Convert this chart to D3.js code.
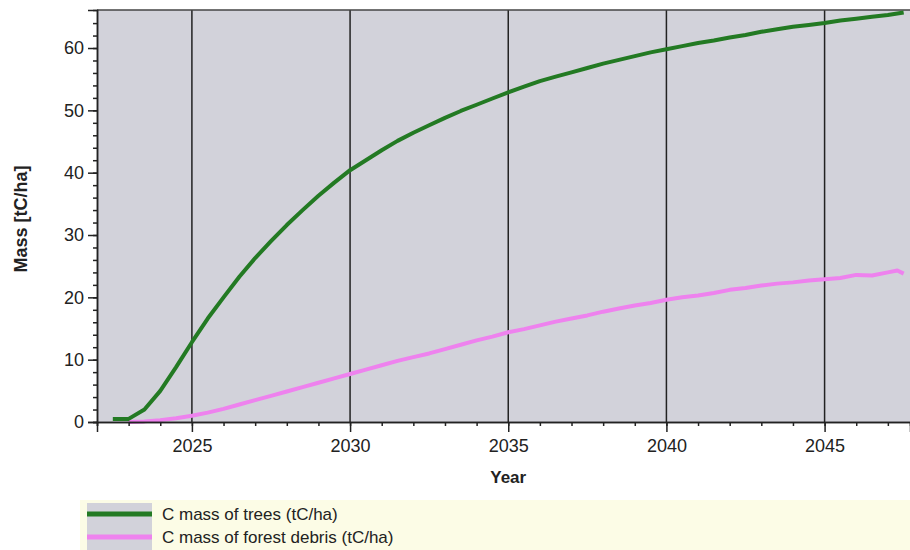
<!DOCTYPE html>
<html><head><meta charset="utf-8">
<script src="https://cdn.jsdelivr.net/npm/d3@7"></script>
<style>
body{margin:0;background:#fff;}
svg{display:block;font-family:Arial,"Liberation Sans",sans-serif;}
</style></head>
<body><svg id="c" width="910" height="550"></svg>
<script>
const treeYears = [2022.5,2023,2023.5,2024,2024.5,2025,2025.5,2026,2026.5,2027,2027.5,2028,2028.5,2029,2029.5,2030,2030.5,2031,2031.5,2032,2032.5,2033,2033.5,2034,2034.5,2035,2035.5,2036,2036.5,2037,2037.5,2038,2038.5,2039,2039.5,2040,2040.5,2041,2041.5,2042,2042.5,2043,2043.5,2044,2044.5,2045,2045.5,2046,2046.5,2047,2047.5];
const treeMass = [0.5,0.5,2.0,5.0,8.8,12.8,16.6,20.0,23.3,26.3,29.0,31.6,34.0,36.3,38.4,40.4,42.0,43.6,45.1,46.4,47.6,48.8,49.9,50.9,51.9,52.9,53.8,54.7,55.4,56.1,56.8,57.5,58.1,58.7,59.3,59.8,60.3,60.8,61.2,61.7,62.1,62.6,63.0,63.4,63.7,64.0,64.4,64.7,65.0,65.3,65.7];
const debrisYears = [2023,2023.5,2024,2024.5,2025,2025.5,2026,2026.5,2027,2027.5,2028,2028.5,2029,2029.5,2030,2030.5,2031,2031.5,2032,2032.5,2033,2033.5,2034,2034.5,2035,2035.5,2036,2036.5,2037,2037.5,2038,2038.5,2039,2039.5,2040,2040.5,2041,2041.5,2042,2042.5,2043,2043.5,2044,2044.5,2045,2045.5,2046,2046.5,2047,2047.3,2047.5];
const debrisMass = [0,0.1,0.3,0.6,1.0,1.5,2.1,2.8,3.5,4.2,4.9,5.6,6.3,7.0,7.7,8.4,9.1,9.8,10.4,11.0,11.7,12.4,13.1,13.7,14.4,14.9,15.5,16.1,16.6,17.1,17.7,18.2,18.7,19.1,19.6,20.0,20.3,20.7,21.2,21.5,21.9,22.2,22.4,22.7,22.9,23.1,23.6,23.5,24.0,24.3,23.8];
const xMajorTicks = [2025,2030,2035,2040,2045];
const yMajorTicks = [0,10,20,30,40,50,60];
const seriesNames = ["C mass of trees (tC/ha)","C mass of forest debris (tC/ha)"];
const seriesColors = ["#237a23","#ee82ee"];
const xLabel = "Year", yLabel = "Mass [tC/ha]";

const svg = d3.select("#c");
const L=97, T=10, R=910, B=422;
const x = d3.scaleLinear().domain([2022, 2047.7]).range([L, R]);
const y = d3.scaleLinear().domain([0, 66.1]).range([B, T]);

svg.append("rect").attr("x",L).attr("y",T).attr("width",R-L).attr("height",B-T).attr("fill","#d2d2da");

svg.append("g").selectAll("line").data(xMajorTicks).join("line")
  .attr("x1",d=>x(d)).attr("x2",d=>x(d)).attr("y1",T).attr("y2",B)
  .attr("stroke","#222").attr("stroke-width",1.5);
svg.append("line").attr("x1",L).attr("x2",R).attr("y1",T).attr("y2",T).attr("stroke","#444").attr("stroke-width",1.5);

const line = d3.line().x(d=>x(d[0])).y(d=>y(d[1]));
const treeData = treeYears.map((t,i)=>[t,treeMass[i]]);
const debrisData = debrisYears.map((t,i)=>[t,debrisMass[i]]);
svg.append("path").datum(debrisData).attr("d",line).attr("fill","none").attr("stroke",seriesColors[1]).attr("stroke-width",4).attr("stroke-linejoin","round");
svg.append("path").datum(treeData).attr("d",line).attr("fill","none").attr("stroke",seriesColors[0]).attr("stroke-width",4).attr("stroke-linejoin","round");

const xMinor = d3.range(2022, 2048, 1);
const yMinor = d3.range(0, 66, 2);
const xAxisMinor = d3.axisBottom(x).tickValues(xMinor).tickSize(4).tickFormat("");
const xAxis = d3.axisBottom(x).tickValues(xMajorTicks).tickSize(10).tickFormat(d3.format("d"));
const yAxisMinor = d3.axisLeft(y).tickValues(yMinor).tickSize(4).tickFormat("");
const yAxis = d3.axisLeft(y).tickValues(yMajorTicks).tickSize(9).tickFormat(d3.format("d"));

function style(g){
  g.select(".domain").attr("stroke","#222").attr("stroke-width",1.5);
  g.selectAll(".tick line").attr("stroke","#222").attr("stroke-width",1.5);
  g.selectAll("text").attr("fill","#222").style("font-size","18px").style("font-family","Arial, 'Liberation Sans', sans-serif");
}
svg.append("g").attr("transform",`translate(0,${B})`).call(xAxisMinor).call(style);
svg.append("g").attr("transform",`translate(0,${B})`).call(xAxis).call(style).call(g=>g.selectAll("text").attr("dy","0.95em"));
svg.append("g").attr("transform",`translate(${L},0)`).call(yAxisMinor).call(style);
svg.append("g").attr("transform",`translate(${L},0)`).call(yAxis).call(style).call(g=>g.selectAll("text").attr("x",-13));

svg.append("text").attr("x",x(2035)).attr("y",483).attr("text-anchor","middle")
  .style("font-weight","bold").style("font-size","17px").attr("fill","#222").text(xLabel);
svg.append("text").attr("transform",`translate(27,${(T+B)/2 + 3}) rotate(-90)`).attr("text-anchor","middle")
  .style("font-weight","bold").style("font-size","18px").attr("fill","#222").text(yLabel);

const lg = svg.append("g");
lg.append("rect").attr("x",80).attr("y",500).attr("width",830).attr("height",50).attr("fill","#fcfce6");
lg.append("rect").attr("x",87).attr("y",503).attr("width",65).attr("height",47).attr("fill","#d2d2da");
seriesNames.forEach((n,i)=>{
  const yy = 514 + i*23;
  lg.append("line").attr("x1",87).attr("x2",152).attr("y1",yy).attr("y2",yy).attr("stroke",seriesColors[i]).attr("stroke-width",5);
  lg.append("text").attr("x",162).attr("y",yy).attr("dy","0.35em").style("font-size","17px").attr("fill","#222").text(n);
});
</script></body></html>
